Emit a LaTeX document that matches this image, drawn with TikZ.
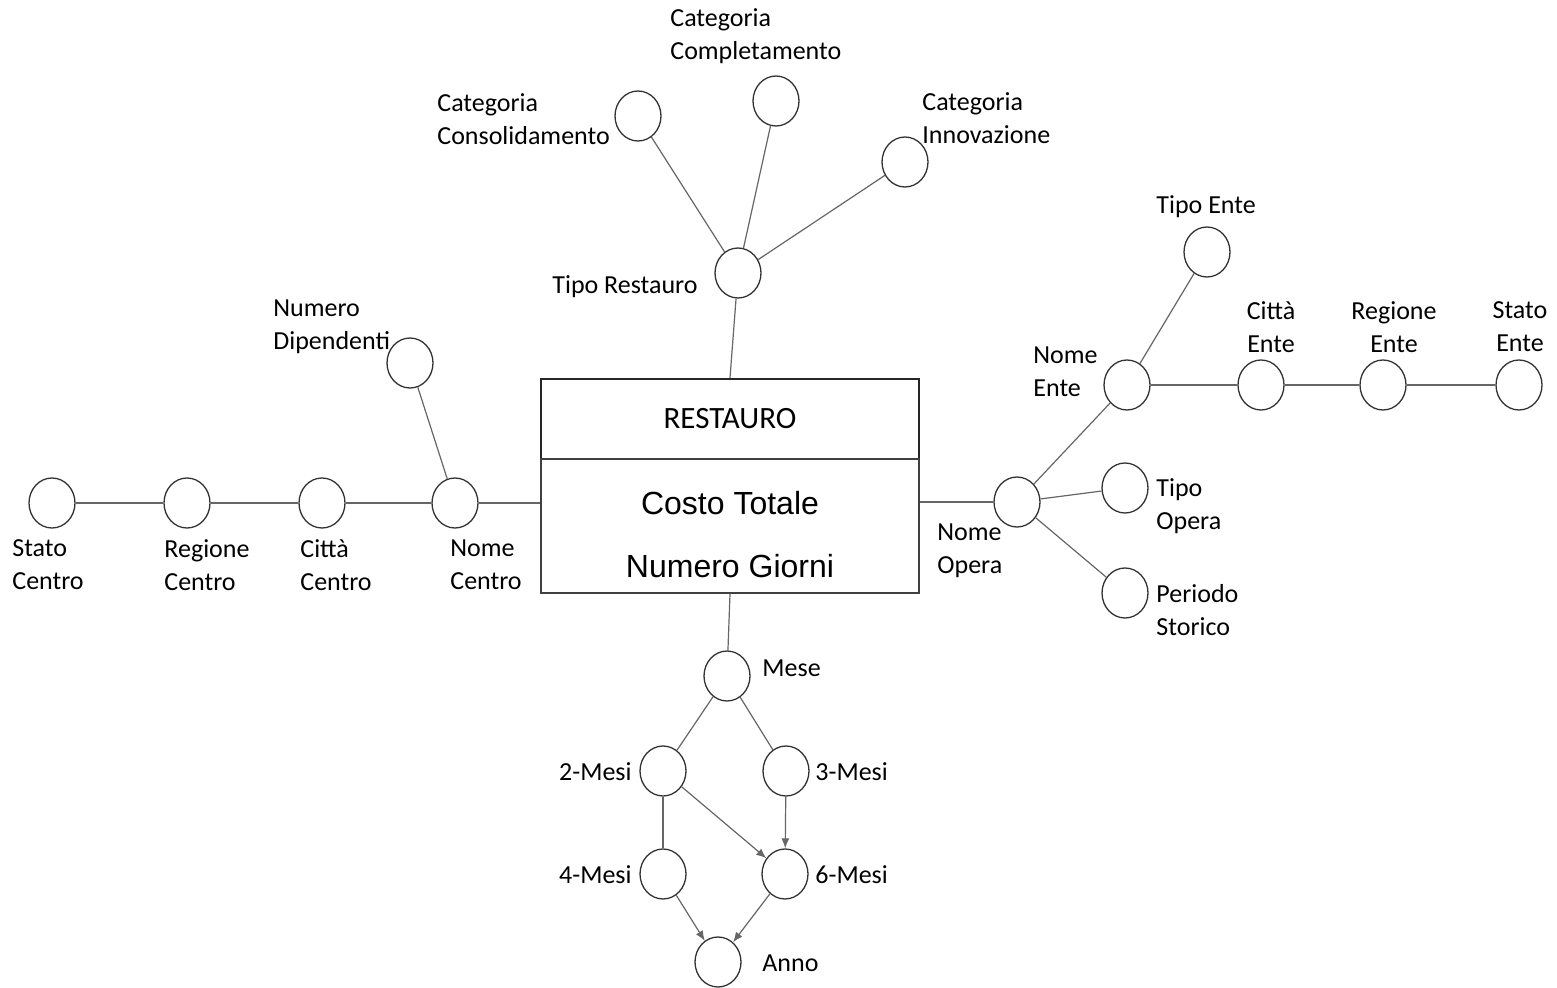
\documentclass[tikz,border=0pt]{standalone}
\usepackage{fontspec}
\setmainfont{Carlito}
\newfontfamily\arialf{Liberation Sans}
\usetikzlibrary{shapes.geometric,arrows.meta}
\begin{document}
\begin{tikzpicture}[x=0.5pt,y=-0.5pt,
 attr/.style={ellipse,draw=black!80,line width=0.65pt,minimum width=23pt,minimum height=25pt,inner sep=0pt},
 lbl/.style={font=\fontsize{13}{16.5}\selectfont,align=left,inner sep=0pt},
 lblc/.style={lbl,align=center},
 conn/.style={draw=black!60,line width=0.6pt},
 arr/.style={conn,-{Latex[length=5pt,width=4pt]}}]
\useasboundingbox (0,0) rectangle (1557,988);
\fill[white] (0,0) rectangle (1557,988);

% entity box
\node[draw=black!85,line width=1.1pt,minimum width=189pt,minimum height=40pt,inner sep=0pt,
      font=\fontsize{15.5}{18}\selectfont] (head) at (730,419) {RESTAURO};
\node[draw=black!75,line width=0.7pt,minimum width=189pt,minimum height=67pt,inner sep=0pt,
      align=center,font=\arialf\fontsize{16}{31.5}\selectfont] (body) at (730,526) {\rule{0pt}{20pt}Costo Totale\\Numero Giorni};

% attribute circles
\node[attr] (sc) at (52,503) {};
\node[attr] (rc) at (187,503) {};
\node[attr] (cc) at (322,503) {};
\node[attr] (nc) at (455,503) {};
\node[attr] (nd) at (410,363) {};
\node[attr] (tr) at (738,273) {};
\node[attr] (ccons) at (638,116) {};
\node[attr] (ccomp) at (776,101) {};
\node[attr] (cinn) at (905,162) {};
\node[attr] (no) at (1017,502) {};
\node[attr] (ne) at (1127,385) {};
\node[attr] (te) at (1207,252) {};
\node[attr] (ce) at (1261,385) {};
\node[attr] (re) at (1383,385) {};
\node[attr] (se) at (1519,385) {};
\node[attr] (to) at (1125,488) {};
\node[attr] (ps) at (1125,593) {};
\node[attr] (me) at (727,676) {};
\node[attr] (m2) at (663,771) {};
\node[attr] (m3) at (786,771) {};
\node[attr] (m4) at (663,874) {};
\node[attr] (m6) at (785,874) {};
\node[attr] (an) at (718,962) {};

% labels
\node[lbl,anchor=west] (lsc) at (12,565) {Stato\\Centro};
\node[lbl,anchor=west] (lrc) at (164,565) {Regione\\Centro};
\node[lbl,anchor=west] (lcc) at (300,565) {Città\\Centro};
\node[lbl,anchor=west] (lnc) at (450,565) {Nome\\Centro};
\node[lbl,anchor=west] (lnd) at (273,327) {Numero\\Dipendenti};
\node[lbl,anchor=east] (ltr) at (698,287) {Tipo Restauro};
\node[lbl,anchor=west] (lccons) at (437,119) {Categoria\\Consolidamento};
\node[lbl,anchor=west] (lccomp) at (670,36) {Categoria\\Completamento};
\node[lbl,anchor=west] (lcinn) at (922,118) {Categoria\\Innovazione};
\node[lbl,anchor=west] (lte) at (1156,207) {Tipo Ente};
\node[lblc] (lce) at (1271,327) {Città\\Ente};
\node[lblc] (lre) at (1394,327) {Regione\\Ente};
\node[lblc] (lse) at (1520,327) {Stato\\Ente};
\node[lbl,anchor=west] (lne) at (1033,372) {Nome\\Ente};
\node[lbl,anchor=west] (lto) at (1156,506) {Tipo\\Opera};
\node[lbl,anchor=west] (lps) at (1156,610) {Periodo\\Storico};
\node[lbl,anchor=west] (lno) at (937,551) {Nome\\Opera};
\node[lbl,anchor=west] (lme) at (762,668) {Mese};
\node[lbl,anchor=east] (lm2) at (632,772) {2-Mesi};
\node[lbl,anchor=west] (lm3) at (815,772) {3-Mesi};
\node[lbl,anchor=east] (lm4) at (632,875) {4-Mesi};
\node[lbl,anchor=west] (lm6) at (815,875) {6-Mesi};
\node[lbl,anchor=west] (lan) at (762,963) {Anno};

% connectors
\draw[conn] (sc) -- (rc);
\draw[conn] (rc) -- (cc);
\draw[conn] (cc) -- (nc);
\draw[conn] (nc) -- (nc -| body.west);
\draw[conn] (nc) -- (nd);
\draw[conn] (tr) -- (head.north);
\draw[conn] (tr) -- (ccons);
\draw[conn] (tr) -- (ccomp);
\draw[conn] (tr) -- (cinn);
\draw[conn] (no -| body.east) -- (no);
\draw[conn] (no) -- (ne);
\draw[conn] (no) -- (to);
\draw[conn] (no) -- (ps);
\draw[conn] (ne) -- (te);
\draw[conn] (ne) -- (ce);
\draw[conn] (ce) -- (re);
\draw[conn] (re) -- (se);
\draw[conn] (body.south) -- (me);
\draw[conn] (me) -- (m2);
\draw[conn] (me) -- (m3);
\draw[conn] (m2) -- (m4);
\draw[arr] (m2) -- (m6);
\draw[arr] (m3) -- (m6);
\draw[arr] (m4) -- (an);
\draw[arr] (m6) -- (an);
\end{tikzpicture}
\end{document}
